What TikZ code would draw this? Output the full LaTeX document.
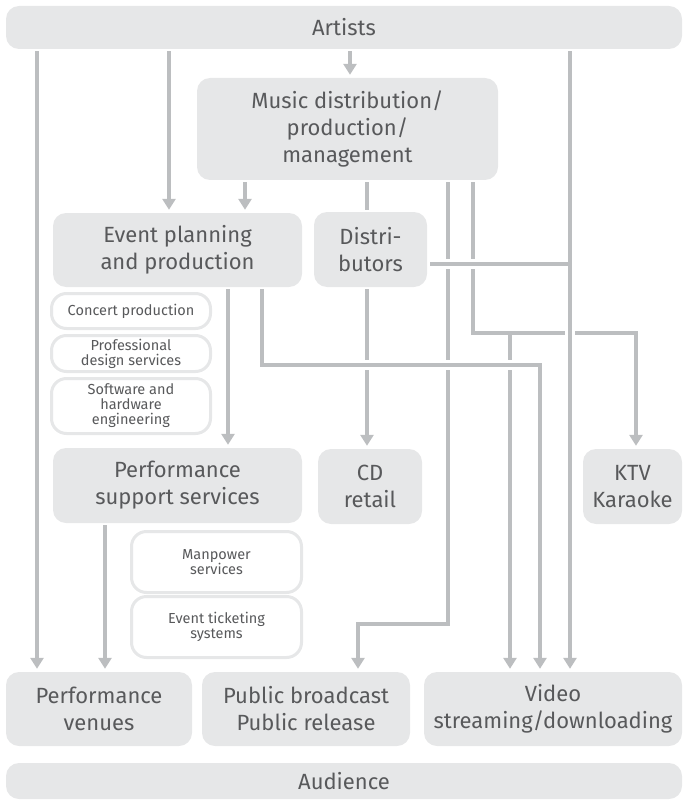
\documentclass[tikz,border=0pt]{standalone}
\usepackage{fontspec}
\setmainfont{Fira Sans}
\usepackage{xcolor}
\usetikzlibrary{arrows.meta, positioning}

\definecolor{boxgray}{HTML}{E6E7E8}
\definecolor{linegray}{HTML}{BCBEC0}
\definecolor{textgray}{HTML}{58595B}

\begin{document}
\begin{tikzpicture}[
        x=1pt, y=-1pt,
        box/.style={rectangle, rounded corners=13pt, fill=boxgray, text=textgray, align=center, inner sep=0pt, font=\fontsize{22}{27}\selectfont},
        subbox/.style={rectangle, rounded corners=15pt, draw=boxgray, line width=3pt, fill=white, text=textgray, align=center, inner sep=0pt, minimum width=159pt, font=\fontsize{14.5}{15}\selectfont},
        link/.style={draw=linegray, line width=3.6pt, shorten <=2pt, shorten >=2pt},
        arrow/.style={link, -{Triangle[width=13pt,length=11pt]}, shorten >=3pt},
        gap/.style={preaction={draw, white, line width=10pt, arrows=-}}
    ]
        \useasboundingbox (0,0) rectangle (687,805);

        % rows of boxes
        \node[box, minimum width=676pt, minimum height=43pt] (artists) at (344,27.5) {Artists};
        \node[box, minimum width=301pt, minimum height=102pt] (music) at (347.5,129) {Music distribution/\\production/\\management};
        \node[box, minimum width=249pt, minimum height=74pt] (event) at (177.5,250) {Event planning\\and production};
        \node[box, minimum width=113pt, minimum height=75pt] (distrib) at (370.5,249.5) {Distri-\\butors};
        \node[box, minimum width=249pt, minimum height=75pt] (support) at (177.5,485.5) {Performance\\support services};
        \node[box, minimum width=104pt, minimum height=75pt] (cd) at (370,486.5) {CD\\retail};
        \node[box, minimum width=99pt, minimum height=75pt] (ktv) at (632.5,486.5) {KTV\\Karaoke};
        \node[box, minimum width=186pt, minimum height=74pt] (venues) at (99,709) {Performance\\venues};
        \node[box, minimum width=208pt, minimum height=74pt] (public) at (306,709) {Public broadcast\\Public release};
        \node[box, minimum width=258pt, minimum height=74pt] (video) at (553,709) {Video\\streaming/downloading};
        \node[box, minimum width=676pt, minimum height=36pt] (audience) at (344,781) {Audience};

        % services
        \node[subbox, minimum height=35pt] (concert) at (131,311) {Concert production};
        \node[subbox, minimum height=36pt, below=4pt of concert] (design) {Professional\\design services};
        \node[subbox, minimum height=55pt, below=4pt of design] (software) {Software and\\hardware\\engineering};
        \node[subbox, minimum width=170pt, minimum height=61pt] (manpower) at (216.5,562) {Manpower\\services};
        \node[subbox, minimum width=170pt, minimum height=61pt, below=1pt of manpower] (ticket) {Event ticketing\\systems};

        % columns and rows of the lines
        \coordinate (xvenue) at (37,0);
        \coordinate (xevent) at (169,0);
        \coordinate (xmusic) at (350,0);
        \coordinate (xvideo) at (570,0);
        \coordinate (xplan) at (245,0);
        \coordinate (xdist) at (367,0);
        \coordinate (xpub) at (448,0);
        \coordinate (xpubin) at (358,0);
        \coordinate (xktv) at (473,0);
        \coordinate (xktvin) at (636,0);
        \coordinate (xstream) at (510,0);
        \coordinate (xsupp) at (228,0);
        \coordinate (xlive) at (262,0);
        \coordinate (xlivein) at (540,0);
        \coordinate (xhall) at (105,0);
        \coordinate (yktv) at (0,333);
        \coordinate (ylive) at (0,365);
        \coordinate (ypub) at (0,624);
        \coordinate (ydist) at (0,264);

        % from artists
        \draw[arrow] (artists.south -| xvenue) -- (venues.north -| xvenue);
        \draw[arrow] (artists.south -| xevent) -- (event.north -| xevent);
        \draw[arrow] (artists.south -| xmusic) -- (music.north -| xmusic);

        % from music distribution
        \draw[arrow] (music.south -| xplan) -- (event.north -| xplan);
        \draw[link] (music.south -| xdist) -- (distrib.north -| xdist);
        \draw[arrow] (music.south -| xktv) -- (yktv -| xktv) -- (yktv -| xktvin) -- (ktv.north -| xktvin);
        \draw[arrow, shorten <=0pt] (yktv -| xstream) -- (video.north -| xstream);
        \draw[arrow] (music.south -| xpub) -- (ypub -| xpub) -- (ypub -| xpubin) -- (public.north -| xpubin);

        % event planning and distributors
        \draw[arrow] (event.south -| xsupp) -- (support.north -| xsupp);
        \draw[arrow] (distrib.south -| xdist) -- (cd.north -| xdist);
        \draw[arrow] (support.south -| xhall) -- (venues.north -| xhall);
        \draw[arrow, gap] (event.south -| xlive) -- (ylive -| xlive) -- (ylive -| xlivein) -- (video.north -| xlivein);

        % lines that cross over
        \draw[arrow, gap] (artists.south -| xvideo) -- (video.north -| xvideo);
        \draw[link, shorten <=3pt, shorten >=-1.8pt, preaction={draw, white, line width=10pt, shorten >=7pt}] (distrib.east |- ydist) -- (ydist -| xvideo);
    \end{tikzpicture}
\end{document}
